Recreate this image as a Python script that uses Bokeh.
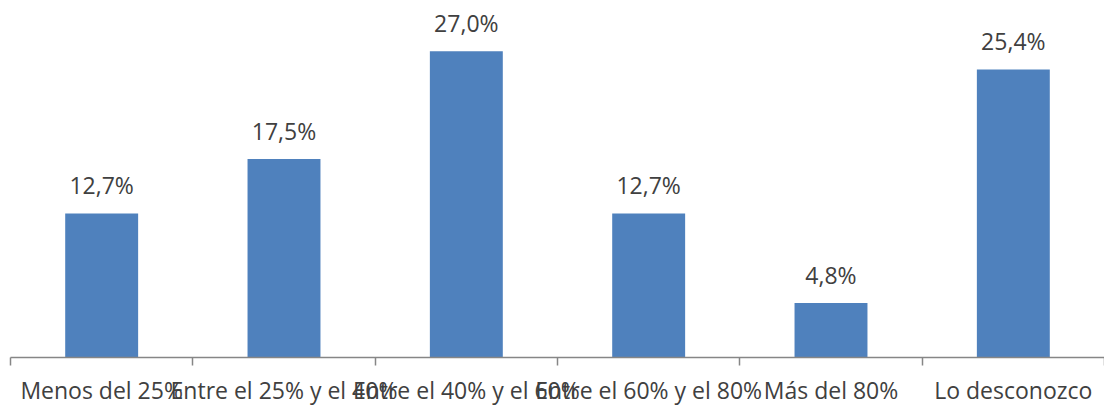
from bokeh.plotting import figure
from bokeh.models import ColumnDataSource, FixedTicker, Range1d, AllLabels
from bokeh.core.properties import value
from bokeh.embed import file_html
from bokeh.resources import INLINE

categories = ["Menos del 25%", "Entre el 25% y el 40%", "Entre el 40% y el 60%",
              "Entre el 60% y el 80%", "Más del 80%", "Lo desconozco"]
values = [12.7, 17.5, 27.0, 12.7, 4.8, 25.4]
labels = ["12,7%", "17,5%", "27,0%", "12,7%", "4,8%", "25,4%"]

xs = [i + 0.5 for i in range(len(categories))]
src = ColumnDataSource(dict(x=xs, top=values, label=labels))

p = figure(width=1104, height=408, output_backend="svg", toolbar_location=None,
           x_range=Range1d(0, 6), y_range=Range1d(0, 30.77),
           min_border_left=10, min_border_right=0, min_border_top=8, min_border_bottom=46)
p.outline_line_color = None
p.xgrid.grid_line_color = None
p.ygrid.grid_line_color = None
p.yaxis.visible = False

p.vbar(x="x", top="top", width=0.4, source=src, fill_color="#4F81BD", line_color=None)
p.text(x="x", y="top", text="label", source=src, y_offset=-28,
       text_align="center", text_baseline="alphabetic",
       text_font=value("Open Sans"), text_font_size="23px", text_color="#404040")

ax = p.xaxis[0]
ax.ticker = FixedTicker(ticks=xs, minor_ticks=list(range(0, 7)))
ax.major_label_overrides = {x: c for x, c in zip(xs, categories)}
ax.major_label_policy = AllLabels()
ax.major_tick_out = 0
ax.major_tick_in = 0
ax.minor_tick_out = 8
ax.minor_tick_in = 0
ax.minor_tick_line_color = "#868686"
ax.axis_line_color = "#868686"
ax.axis_line_width = 1.5
ax.minor_tick_line_width = 1.5
ax.major_label_standoff = 8
ax.major_label_text_font = "Open Sans"
ax.major_label_text_font_size = "23px"
ax.major_label_text_color = "#404040"

open("out.html", "w").write(file_html(p, INLINE))
